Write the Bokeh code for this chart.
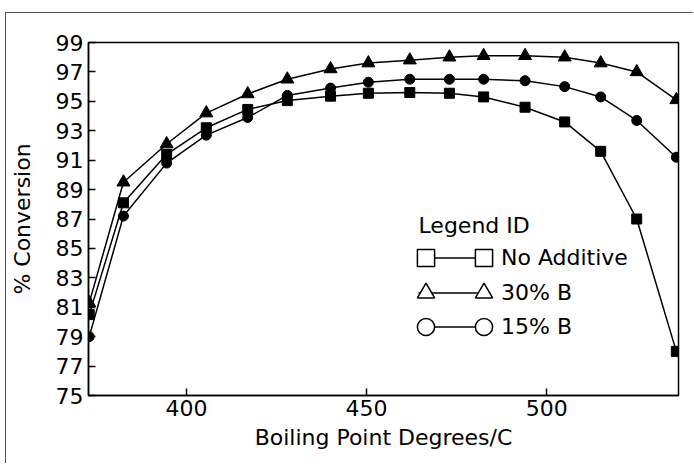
from bokeh.plotting import figure
from bokeh.models import Range1d, FixedTicker, Legend, LegendItem, ColumnDataSource, Label
from bokeh.embed import file_html
from bokeh.resources import INLINE

# ---- data ----
boiling_point = [373, 382.5, 394.5, 405.5, 417, 428, 440, 450.5, 462, 473, 482.5, 494, 505, 515, 525, 536]
no_additive = [80.5, 88.1, 91.4, 93.2, 94.45, 95.05, 95.35, 95.55, 95.6, 95.55, 95.3, 94.6, 93.6, 91.6, 87.0, 78.0]
b30 = [81.3, 89.5, 92.1, 94.2, 95.5, 96.5, 97.2, 97.6, 97.8, 98.0, 98.1, 98.1, 98.0, 97.6, 97.0, 95.1]
b15 = [79.0, 87.2, 90.8, 92.7, 93.9, 95.4, 95.9, 96.3, 96.5, 96.5, 96.5, 96.4, 96.0, 95.3, 93.7, 91.2]
x_ticks = [400, 450, 500]
y_ticks = list(range(75, 100, 2))
series_labels = ["No Additive", "30% B", "15% B"]
series_markers = ["square", "triangle", "circle"]
legend_title = "Legend ID"

FONT = "DejaVu Sans"

# canvas shifted by the page rule (left 5px + 1px border, top 12px + 1px border)
p = figure(width=688, height=451, output_backend="svg", toolbar_location=None,
           x_range=Range1d(372.8, 536.6), y_range=Range1d(75, 99),
           min_border_left=81, min_border_right=16, min_border_top=29, min_border_bottom=69,
           styles={"margin-left": "5px", "margin-top": "12px",
                   "border-left": "1px solid #555555", "border-top": "1px solid #555555"})
p.grid.visible = False
p.outline_line_color = "black"
p.outline_line_width = 1.5
p.background_fill_color = "white"
p.border_fill_color = "white"

for ax in (p.xaxis[0], p.yaxis[0]):
    ax.axis_line_color = "black"
    ax.axis_line_width = 1.5
    ax.major_tick_in = 7
    ax.major_tick_out = 0
    ax.major_tick_line_width = 1.5
    ax.minor_tick_line_color = None
    ax.major_label_text_font = FONT
    ax.major_label_text_font_size = "22px"
    ax.major_label_text_color = "black"
    ax.axis_label_text_font = FONT
    ax.axis_label_text_font_size = "22px"
    ax.axis_label_text_font_style = "normal"
    ax.axis_label_text_color = "black"

p.xaxis.ticker = FixedTicker(ticks=x_ticks)
p.yaxis.ticker = FixedTicker(ticks=y_ticks)
p.xaxis.axis_label = "Boiling Point Degrees/C"
p.yaxis.axis_label = "% Conversion"
p.xaxis.major_label_standoff = 4
p.yaxis.major_label_standoff = 5
p.xaxis.axis_label_standoff = 6
p.yaxis.axis_label_standoff = 18

# data series
sizes = {"square": 10, "triangle": 13, "circle": 10}
for ys, lab, mk in zip([no_additive, b30, b15], series_labels, series_markers):
    src = ColumnDataSource(dict(x=boiling_point, y=ys))
    p.line("x", "y", source=src, line_color="black", line_width=1.5)
    p.scatter("x", "y", source=src, marker=mk, size=sizes[mk], color="black")

# legend: one row per series, built from hidden renderers of the same data
row_bottoms = [116, 81, 47]   # legend bottoms, px above the frame bottom
legend_common = dict(orientation="vertical", padding=0, margin=0,
                     border_line_alpha=0, background_fill_alpha=0,
                     inactive_fill_alpha=0, glyph_height=43,
                     label_text_font=FONT, label_text_font_size="22px",
                     label_text_color="black")
marker_legends = []
for ys, lab, mk, yb in zip([no_additive, b30, b15], series_labels, series_markers, row_bottoms):
    src = ColumnDataSource(dict(x=boiling_point, y=ys))
    lr = p.line("x", "y", source=src, line_color="black", line_width=1.5, visible=False)
    m1 = p.scatter("x", "y", source=src, marker=mk, size=17, fill_color="white",
                   line_color="black", line_width=1.5, visible=False)
    m2 = p.scatter("x", "y", source=src, marker=mk, size=17, fill_color="white",
                   line_color="black", line_width=1.5, visible=False)
    p.add_layout(Legend(items=[LegendItem(label=lab, renderers=[lr])], location=(330, yb),
                        glyph_width=65, label_standoff=18, **legend_common))
    marker_legends.append(Legend(items=[LegendItem(label=" ", renderers=[m1])], location=(316, yb),
                                 glyph_width=43, label_standoff=0, **legend_common))
    marker_legends.append(Legend(items=[LegendItem(label=" ", renderers=[m2])], location=(374, yb),
                                 glyph_width=43, label_standoff=0, **legend_common))
for lg in marker_legends:
    p.add_layout(lg)

p.add_layout(Label(x=330, y=170, x_units="screen", y_units="screen", text=legend_title,
                   text_font=FONT, text_font_size="22px", text_color="black",
                   text_baseline="alphabetic", text_align="left"))

open("out.html", "w").write(file_html(p, INLINE))
